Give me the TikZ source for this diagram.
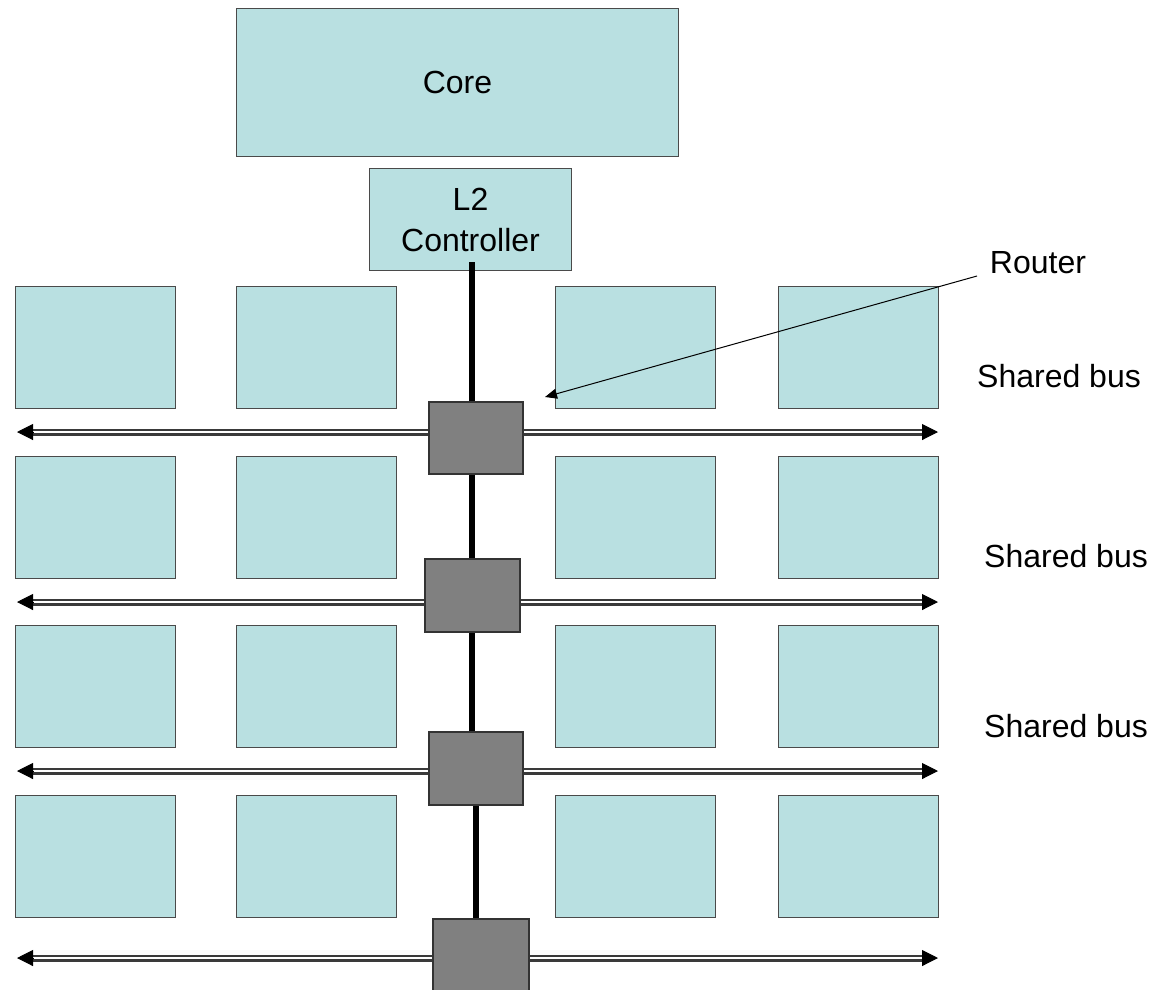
\documentclass[tikz,border=0pt]{standalone}
\usepackage{fontspec}
\setmainfont{Liberation Sans}
\usetikzlibrary{arrows.meta}
\definecolor{cellfill}{HTML}{B9E0E1}
\definecolor{cellline}{HTML}{4A4A4A}
\definecolor{routerfill}{HTML}{808080}
\definecolor{busgray}{HTML}{3A3A3A}
\pgfdeclarelayer{front}
\pgfsetlayers{main,front}
\begin{document}
\begin{tikzpicture}[x=1pt,y=-1pt,
  block/.style={draw=cellline, line width=1pt, fill=cellfill, anchor=north west,
    inner sep=0pt, align=center, font=\fontsize{32}{41}\selectfont},
  cell/.style={block, minimum width=160pt, minimum height=122pt},
  router/.style={draw=black!80, line width=1.5pt, fill=routerfill, anchor=north west, inner sep=0pt},
  spine/.style={line width=6pt, black},
  busline/.style={draw=busgray, line width=2.4pt, double=white, double distance=2.2pt},
  bustip/.style={-{Triangle[length=16pt,width=16pt]}, line width=1pt, black},
  label/.style={font=\fontsize{32}{41}\selectfont, inner sep=0pt},
  pointer/.style={-{Triangle[length=12pt,width=10pt]}, line width=1pt, black}]
\useasboundingbox (0,0) rectangle (1158,989);
\clip (0,0) rectangle (1158,989);

% processor core and cache controller
\node[block, minimum width=442pt, minimum height=148pt] (core) at (236,8) {Core};
\node[block, minimum width=202pt, minimum height=102pt] (l2) at (369,168) {L2\\Controller};

% cache banks, four rows of four
\foreach \r/\y in {1/286,2/456,3/625,4/795}{
  \foreach \c/\x in {1/15,2/236,3/555,4/778}{
    \node[cell] (c\r\c) at (\x,\y) {};
  }
}

% routers on the spine
\begin{pgfonlayer}{front}
\node[router, minimum width=94pt, minimum height=72pt] (r1) at (428,401) {};
\node[router, minimum width=95pt, minimum height=73pt] (r2) at (424,558) {};
\node[router, minimum width=94pt, minimum height=73pt] (r3) at (428,731) {};
\node[router, minimum width=96pt, minimum height=80pt] (r4) at (432,918) {};
\end{pgfonlayer}

% vertical spine from the controller through the routers
\coordinate (sp0) at (472,262);
\coordinate (sp1) at (476,0);
\draw[spine] (sp0) -- (sp0 |- r3.center);
\draw[spine] (sp1 |- r3.center) -- (sp1 |- r4.center);

% shared buses through each router
\foreach \i/\y in {1/432,2/602,3/771,4/958}{
  \coordinate (bl\i) at (17,\y);
  \coordinate (br\i) at (938,\y);
  \draw[busline] ([xshift=14pt]bl\i) -- ([xshift=-14pt]br\i);
  \draw[bustip] ([xshift=16pt]bl\i) -- (bl\i);
  \draw[bustip] ([xshift=-16pt]br\i) -- (br\i);
}

% labels
\node[label] (rlab) at (1038,263) {Router};
\node[label] (sb1) at (1059,376) {Shared bus};
\node[label] (sb2) at (1066,556) {Shared bus};
\node[label] (sb3) at (1066,726) {Shared bus};

\coordinate (rtail) at (977,276);
\coordinate (rtip) at (545,397);
\draw[pointer] (rtail) -- (rtip);
\end{tikzpicture}
\end{document}
